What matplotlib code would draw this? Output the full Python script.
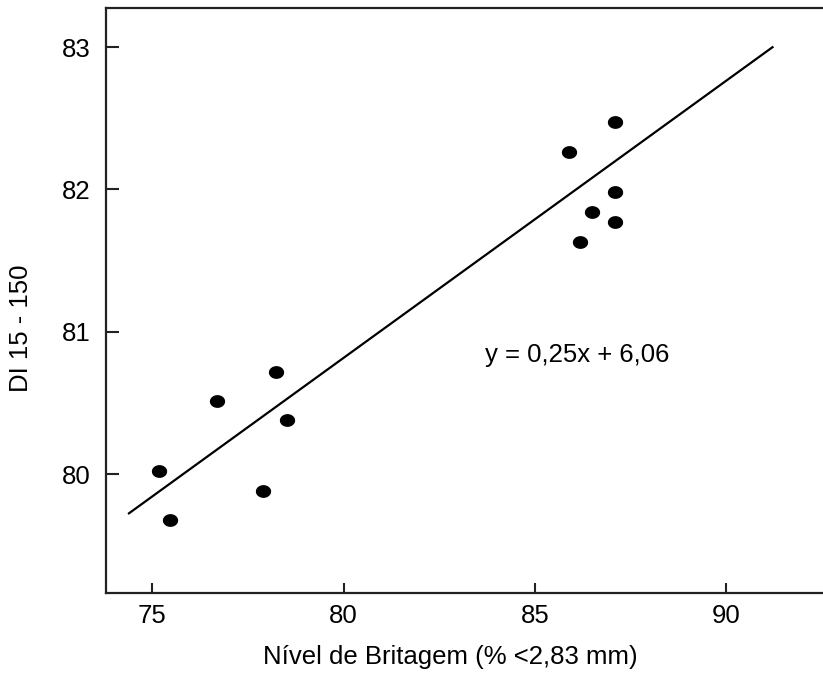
"""DI 15-150 vs crushing level scatter with fitted line."""

import matplotlib
import numpy as np

matplotlib.use("Agg")
from matplotlib import pyplot as plt
from matplotlib.path import Path

plt.rcParams["font.family"] = ["Liberation Sans", "DejaVu Sans"]

# crushing level (% < 2.83 mm) and DI 15-150
britagem = [75.18, 75.46, 76.69, 78.23, 78.52, 77.89,
            85.89, 87.09, 87.09, 86.49, 87.09, 86.18]
di_15_150 = [80.02, 79.68, 80.51, 80.72, 80.38, 79.88,
             82.26, 82.47, 81.98, 81.84, 81.77, 81.63]

# drawn regression line (as plotted) and its printed equation
fit_slope = 0.1947
fit_intercept = 65.24
fit_x_range = [74.39, 91.21]
equation = "y = 0,25x + 6,06"

x_ticks = [75, 80, 85, 90]
y_ticks = [80, 81, 82, 83]

fs = 18.5
ink = "#222222"

fig = plt.figure(figsize=(8.23, 6.75), dpi=100)
ax = fig.add_axes((106 / 823, 82 / 675, 717 / 823, 585 / 675))

theta = np.linspace(0, 2 * np.pi, 40)
dot = Path(np.column_stack([np.cos(theta), 0.82 * np.sin(theta)]), closed=True)
ax.plot(britagem, di_15_150, linestyle="none", marker=dot, markersize=10,
        color="black")

line_x = np.array(fit_x_range)
ax.plot(line_x, fit_intercept + fit_slope * line_x, color="black", linewidth=1.6)

ax.text(83.69, 80.836, equation, fontsize=fs, ha="left", va="center")

ax.set_xlim(73.79, 92.53)
ax.set_ylim(79.164, 83.274)
ax.set_xticks(x_ticks)
ax.set_yticks(y_ticks)
ax.spines["right"].set_visible(False)
for side in ("left", "top", "bottom"):
    ax.spines[side].set_linewidth(1.6)
    ax.spines[side].set_color(ink)
ax.tick_params(axis="both", direction="in", width=1.5, color=ink,
               labelsize=fs, top=False, right=False)
ax.tick_params(axis="x", length=7, pad=8)
ax.tick_params(axis="y", length=9, pad=11)

ax.set_xlabel("Nível de Britagem (% <2,83 mm)", fontsize=fs, va="top")
ax.xaxis.set_label_coords(0.48, -0.089)
ax.set_ylabel("DI 15 - 150", fontsize=fs)
ax.yaxis.set_label_coords(-0.102, 0.453)

fig.savefig("out.png", dpi=100)
plt.close(fig)
